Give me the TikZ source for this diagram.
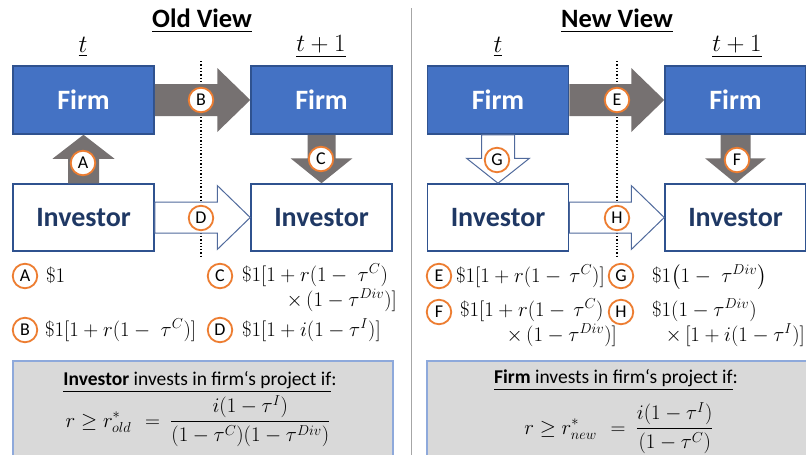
\documentclass[tikz,border=0pt]{standalone}
\usepackage{amsmath}
\usepackage{fontspec}
\setmainfont{Carlito}
\usetikzlibrary{calc}
\definecolor{firmblue}{HTML}{4472C4}
\definecolor{firmborder}{HTML}{2F528F}
\definecolor{invtext}{HTML}{1F3864}
\definecolor{invborder}{HTML}{2F528F}
\definecolor{arrowgray}{HTML}{767171}
\definecolor{outlineblue}{HTML}{506A9C}
\definecolor{badgeorange}{HTML}{ED7D31}
\definecolor{boxgray}{HTML}{D9D9D9}
\definecolor{boxborder}{HTML}{8EA9DB}
\definecolor{sepgray}{HTML}{A6A6A6}
\newcommand\blockarrow[6]{%
  \coordinate (bas) at (#2);
  \coordinate (bat) at (#3);
  \coordinate (bah) at ($(bat)!#6!(bas)$);
  \draw[#1] ($(bas)!#4!90:(bat)$) -- ($(bah)!#4!-90:(bas)$) -- ($(bah)!#5!-90:(bas)$) -- (bat)
    -- ($(bah)!#5!90:(bas)$) -- ($(bah)!#4!90:(bas)$) -- ($(bas)!#4!-90:(bat)$) -- cycle;
}
\begin{document}
\begin{tikzpicture}[x=1pt,y=-1pt,
  firmbox/.style={draw=firmborder, line width=1.5pt, fill=firmblue, text=white,
    font=\fontsize{28}{32}\selectfont\bfseries, minimum width=141pt, minimum height=68pt, inner sep=0pt},
  invbox/.style={draw=invborder, line width=1.5pt, fill=white, text=invtext,
    font=\fontsize{28}{32}\selectfont\bfseries, minimum width=141pt, minimum height=67pt, inner sep=0pt},
  badge/.style={circle, draw=badgeorange, line width=1.8pt, fill=white, minimum size=24.5pt,
    inner sep=0pt, font=\fontsize{18}{18}\selectfont},
  grayarrow/.style={fill=arrowgray, draw=none},
  outarrow/.style={fill=white, draw=outlineblue, line width=1pt},
  titletext/.style={font=\fontsize{26.5}{30}\selectfont\bfseries, inner sep=0pt},
  timetext/.style={font=\fontsize{26}{30}\selectfont, inner sep=0pt},
  mathlbl/.style={anchor=base west, inner sep=0pt, font=\fontsize{21}{24}\selectfont},
  mathlblr/.style={anchor=base east, inner sep=0pt, font=\fontsize{21}{24}\selectfont},
  infobox/.style={draw=boxborder, line width=1.5pt, fill=boxgray},
  infotext/.style={anchor=base, inner sep=0pt, font=\fontsize{19.5}{22}\selectfont},
  formula/.style={inner sep=0pt, font=\fontsize{20}{24}\selectfont},
  timeline/.style={dotted, line width=1.3pt, black}
]
\useasboundingbox (0,0) rectangle (806,455);
\fill[white] (0,0) rectangle (806,455);

% separator
\draw[sepgray, line width=1pt] (411,8) -- (411,455);

% ---------------- OLD VIEW ----------------
\node[titletext] (oldtitle) at (202,21) {\underline{Old View}};
\node[timetext] (oldt) at (83,47) {$\underline{t}$};
\node[timetext] (oldt1) at (321,47) {$\underline{t+1}$};

\draw[timeline] (201,61) -- (201,257);

\node[firmbox] (fL) at (83.5,100) {Firm};
\node[firmbox] (fR) at (321.5,100) {Firm};
\node[invbox] (iL) at (83.5,217.5) {Investor};
\node[invbox] (iR) at (321.5,217.5) {Investor};

\blockarrow{grayarrow}{fL.east}{fR.west}{16pt}{32pt}{33pt}
\blockarrow{outarrow}{iL.east}{iR.west}{15.5pt}{32pt}{33pt}
\blockarrow{grayarrow}{iL.north}{fL.south}{15.5pt}{31pt}{24pt}
\blockarrow{grayarrow}{fR.south}{iR.north}{14pt}{31pt}{25pt}

\node[badge] (bA) at (83,163) {A};
\node[badge] (bB) at (201,100) {B};
\node[badge] (bC) at (321,159) {C};
\node[badge] (bD) at (201,218) {D};

% labels
\node[badge] (lA) at (25,276) {A};
\node[mathlbl] (tA) at (46,282) {$\$1$};
\node[badge] (lC) at (220,276) {C};
\node[mathlbl] (tC1) at (242,281) {$\$1[1+r(1-\;\tau^C)$};
\node[mathlblr] (tC2) at (397,306) {$\times\,(1-\tau^{Div})]$};
\node[badge] (lB) at (25,330) {B};
\node[mathlbl] (tB) at (45,336) {$\$1[1+r(1-\;\tau^C)]$};
\node[badge] (lD) at (220,330) {D};
\node[mathlbl] (tD) at (242,336) {$\$1[1+i(1-\tau^I)]$};

\draw[infobox] (13,361) rectangle (393,462);
\node[infotext] (qOld) at (200,385) {\underline{\textbf{Investor} invests in firm‘s project if}:};
\node[formula] (fOld) at (198,421) {$\displaystyle r \geq r^*_{old}\ \,=\ \frac{i(1-\tau^I)}{(1-\tau^C)(1-\tau^{Div})}$};

% ---------------- NEW VIEW ----------------
\node[titletext] (newtitle) at (617,21) {\underline{New View}};
\node[timetext] (newt) at (498,47) {$\underline{t}$};
\node[timetext] (newt1) at (737,47) {$\underline{t+1}$};

\draw[timeline] (617,61) -- (617,257);

\node[firmbox] (nfL) at (498,100) {Firm};
\node[firmbox] (nfR) at (735.5,100) {Firm};
\node[invbox] (niL) at (498,217.5) {Investor};
\node[invbox] (niR) at (735.5,217.5) {Investor};

\blockarrow{grayarrow}{nfL.east}{nfR.west}{16pt}{32pt}{33pt}
\blockarrow{outarrow}{niL.east}{niR.west}{15.5pt}{32pt}{33pt}
\blockarrow{outarrow}{nfL.south}{niL.north}{16.5pt}{31.5pt}{25pt}
\blockarrow{grayarrow}{nfR.south}{niR.north}{15pt}{30.5pt}{25pt}

\node[badge] (bE) at (617,100) {E};
\node[badge] (bG) at (497,160) {G};
\node[badge] (bF) at (737,160) {F};
\node[badge] (bH) at (617,218) {H};

\node[badge] (lE) at (439,276) {E};
\node[mathlbl] (tE) at (456,282) {$\$1[1+r(1-\,\tau^C)]$};
\node[badge] (lG) at (621,276) {G};
\node[mathlbl] (tG) at (652,282) {$\$1\bigl(1-\;\tau^{Div}\bigr)$};
\node[badge] (lF) at (439,312) {F};
\node[mathlbl] (tF1) at (460,316) {$\$1[1+r(1-\,\tau^C)$};
\node[mathlblr] (tF2) at (617,341) {$\times\,(1-\tau^{Div})]$};
\node[badge] (lH) at (621,312) {H};
\node[mathlbl] (tH1) at (652,316) {$\$1(1-\tau^{Div})$};
\node[mathlblr] (tH2) at (805,341) {$\times\,[1+i(1-\tau^I)]$};

\draw[infobox] (427,361) rectangle (812,462);
\node[infotext] (qNew) at (616,383) {\underline{\textbf{Firm} invests in firm‘s project if}:};
\node[formula] (fNew) at (619,428) {$\displaystyle r \geq r^*_{new}\ \,=\ \frac{i(1-\tau^I)}{(1-\tau^C)}$};
\end{tikzpicture}
\end{document}
